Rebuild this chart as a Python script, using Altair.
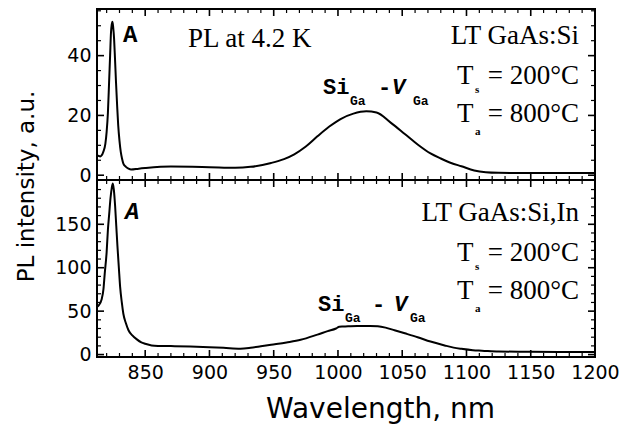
import altair as alt
import pandas as pd

# ---------------- data ----------------
wl_top = [812.5, 815, 817.4, 819, 820, 821, 821.9, 822.7, 823.4, 824, 824.5, 825.1, 825.8,
          826.5, 827.3, 828.2, 829, 830, 831, 832, 833, 835, 837, 839, 845, 850, 870, 900,
          920, 932, 948, 958, 966, 975, 984, 993, 1002, 1012, 1022, 1030, 1041, 1052, 1062,
          1072, 1080, 1088, 1096, 1106, 1115, 1125, 1150, 1200]
pl_top = [6.6, 6.3, 7.8, 10.5, 14.5, 21, 31, 40, 47.8, 50.5, 51.3, 49.5, 45.6,
          39, 31, 23, 16.7, 11.5, 7.8, 5.5, 3.9, 2.8, 2.2, 1.9, 2.2, 2.4, 2.9, 2.7,
          2.5, 2.8, 4.1, 5.4, 7.0, 9.6, 13, 16.2, 18.8, 20.6, 21.4, 21.0, 17.6, 13.8, 10.3,
          7.3, 5.6, 4.1, 3.0, 1.6, 1.0, 0.8, 0.7, 0.7]

wl_bot = [812.5, 814, 816, 817.5, 818.5, 820, 821, 822, 823, 824, 824.8, 825.6, 826.6,
          827.5, 828.4, 829.5, 830.5, 831.8, 833, 835, 837, 840, 843.5, 847, 850, 855,
          860, 870, 885, 900, 911, 924, 932, 940, 948, 960, 971, 984, 992, 998.5, 1001,
          1004, 1008, 1015, 1025, 1031, 1037, 1044, 1052, 1062, 1072, 1083, 1090, 1096,
          1105, 1112, 1125, 1150, 1200]
pl_bot = [55, 57, 63, 75, 93, 118, 144, 162, 180, 192, 197, 190, 171,
          148, 125, 100, 78, 60, 47, 36, 28, 22, 17.5, 14, 12.4, 10.5,
          10, 9.8, 9.3, 8.5, 7.8, 6.8, 7.8, 9.5, 11.3, 14, 17, 23, 27, 30, 32.0,
          32.3, 32.6, 33, 33, 32.6, 31, 28, 24.5, 20, 15, 10.5, 8, 6.6,
          5, 4.5, 3.5, 3.2, 3]

x_major = [850, 900, 950, 1000, 1050, 1100, 1150, 1200]
x_minor = [v for v in range(820, 1200, 10) if v % 50 != 0]
y_top_major = [0, 20, 40]
y_top_minor = [v for v in range(5, 56, 5) if v % 20 != 0]
y_bot_major = [0, 50, 100, 150]
y_bot_minor = [v for v in range(10, 201, 10) if v % 50 != 0]

x_domain = [812.5, 1200]
y_top_domain = [-1.6, 55.6]
y_bot_domain = [-2.8, 201]

sample_top = ["LT GaAs:Si"]
sample_bot = ["LT GaAs:Si,In"]
peak_a = ["A"]
header = ["PL at 4.2 K"]
ts_value = ["= 200°C"]
ta_value = ["= 800°C"]
x_title = "Wavelength, nm"
y_title = "PL intensity, a.u."

W = 498
H_TOP = 171
H_BOT = 177

SANS = "DejaVu Sans"
SERIF = "Liberation Serif"
MONO = "Liberation Mono"
SERIF_SIZE = 27


def tick_rules(xs, ys, ymaj, ymin, h):
    """Inward ticks on all four sides of a panel, placed through the panel's scales."""
    layers = []
    for vals, size, w in ((x_major, 7, 1.6), (x_minor, 4, 1.2)):
        d = alt.Chart(pd.DataFrame({"v": vals}))
        enc_x = alt.X("v:Q", scale=xs, axis=None)
        layers.append(d.mark_rule(color="black", strokeWidth=w).encode(
            x=enc_x, y=alt.value(0), y2=alt.value(size)))
        layers.append(d.mark_rule(color="black", strokeWidth=w).encode(
            x=enc_x, y=alt.value(h - size), y2=alt.value(h)))
    for vals, size, w in ((ymaj, 7, 1.6), (ymin, 4, 1.2)):
        d = alt.Chart(pd.DataFrame({"v": vals}))
        enc_y = alt.Y("v:Q", scale=ys, axis=None)
        layers.append(d.mark_rule(color="black", strokeWidth=w).encode(
            y=enc_y, x=alt.value(0), x2=alt.value(size)))
        layers.append(d.mark_rule(color="black", strokeWidth=w).encode(
            y=enc_y, x=alt.value(W - size), x2=alt.value(W)))
    return layers


def txt(s, x, y, font, size, weight="normal", style="normal", align="left"):
    return alt.Chart(pd.DataFrame({"t": s})).mark_text(
        font=font, fontSize=size, fontWeight=weight, fontStyle=style, align=align,
        baseline="alphabetic", color="black",
    ).encode(text="t:N", x=alt.value(x), y=alt.value(y))


def annotations(sample, dy, a_x, a_style, si_x, si_y, dash_x, v_x, ga2_x):
    parts = []
    parts.append(txt(peak_a, a_x, 33 + dy, MONO, 24, "bold", a_style))
    parts.append(txt(sample, 482, 35 + dy, SERIF, SERIF_SIZE, align="right"))
    parts.append(txt(["T"], 360, 75 + dy, SERIF, SERIF_SIZE))
    parts.append(txt(["s"], 378, 84 + dy, SERIF, 11, "bold"))
    parts.append(txt(ts_value, 482, 75 + dy, SERIF, SERIF_SIZE, align="right"))
    parts.append(txt(["T"], 360, 113 + dy, SERIF, SERIF_SIZE))
    parts.append(txt(["a"], 378, 126 + dy, SERIF, 11, "bold"))
    parts.append(txt(ta_value, 482, 113 + dy, SERIF, SERIF_SIZE, align="right"))
    parts.append(txt(["Si"], si_x, si_y, MONO, 22, "bold"))
    parts.append(txt(["Ga"], si_x + 27, si_y + 11, MONO, 13, "bold"))
    parts.append(txt(["-"], dash_x, si_y, MONO, 22, "bold"))
    parts.append(txt(["V"], v_x, si_y, MONO, 22, "bold", "italic"))
    parts.append(txt(["Ga"], ga2_x, si_y + 11, MONO, 13, "bold"))
    return parts


df_top = pd.DataFrame({"wl": wl_top, "pl": pl_top})
df_bot = pd.DataFrame({"wl": wl_bot, "pl": pl_bot})

xs = alt.Scale(domain=x_domain, nice=False, zero=False)
ys_top = alt.Scale(domain=y_top_domain, nice=False, zero=False)
ys_bot = alt.Scale(domain=y_bot_domain, nice=False, zero=False)

line_style = dict(color="black", strokeWidth=2, interpolate="monotone", clip=True)

top_line = alt.Chart(df_top).mark_line(**line_style).encode(
    x=alt.X("wl:Q", scale=xs, axis=None),
    y=alt.Y("pl:Q", scale=ys_top, axis=alt.Axis(
        orient="left", values=y_top_major, ticks=False, domain=False, grid=False,
        labelFont=SANS, labelFontSize=19, labelColor="black", labelPadding=6,
        labelOverlap=False, labelFlush=False, format="d",
        title=y_title, titleFont=SANS, titleFontSize=23, titleFontWeight="normal",
        titleColor="black", titleAngle=270, titleAlign="center", titleBaseline="middle",
        titleX=-71, titleY=177)),
)

bot_line = alt.Chart(df_bot).mark_line(**line_style).encode(
    x=alt.X("wl:Q", scale=xs, axis=alt.Axis(
        orient="bottom", values=x_major, ticks=False, domain=False, grid=False,
        labelFont=SANS, labelFontSize=19, labelColor="black", labelPadding=6,
        labelOverlap=False, labelFlush=False, format="d",
        title=x_title, titleFont=SANS, titleFontSize=28, titleFontWeight="normal",
        titleColor="black", titleAlign="center", titleBaseline="alphabetic",
        titleX=283, titleY=60)),
    y=alt.Y("pl:Q", scale=ys_bot, axis=alt.Axis(
        orient="left", values=y_bot_major, ticks=False, domain=False, grid=False,
        labelFont=SANS, labelFontSize=19, labelColor="black", labelPadding=6,
        labelOverlap=False, labelFlush=False, format="d", title=None)),
)

top = alt.layer(
    top_line,
    *tick_rules(xs, ys_top, y_top_major, y_top_minor, H_TOP),
    *annotations(sample_top, 0, 26, "normal", 226, 85, 281, 295, 316),
    txt(header, 91, 38, SERIF, SERIF_SIZE),
).resolve_axis(x="independent", y="independent").properties(width=W, height=H_TOP)

bot = alt.layer(
    bot_line,
    *tick_rules(xs, ys_bot, y_bot_major, y_bot_minor, H_BOT),
    *annotations(sample_bot, 5.5, 28, "italic", 221, 130.5, 275, 297, 313),
).resolve_axis(x="independent", y="independent").properties(width=W, height=H_BOT)

chart = alt.vconcat(top, bot, spacing=0, bounds="flush").properties(
    padding={"left": 14, "top": 7, "right": 5, "bottom": 5},
    background="white",
).configure_view(stroke="black", strokeWidth=2)

chart.save("out.html", embed_options={"renderer": "svg", "actions": False})
